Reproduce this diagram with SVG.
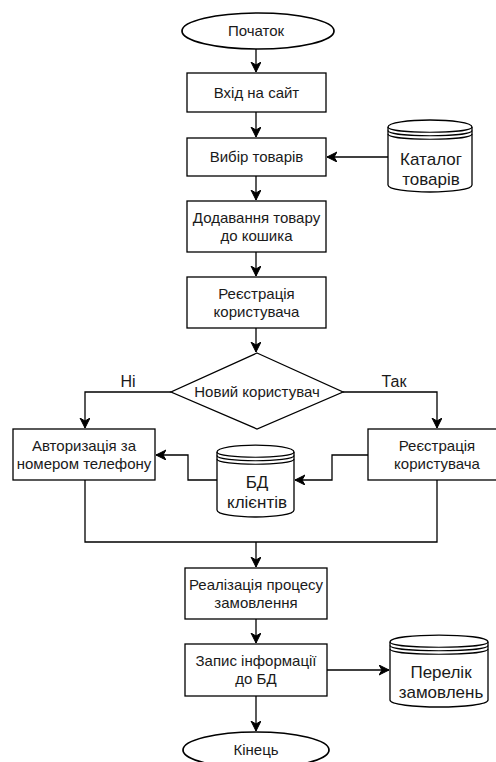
<svg xmlns="http://www.w3.org/2000/svg" width="496" height="762" viewBox="0 0 496 762">
<style>
.shape{fill:#fff;stroke:#000;stroke-width:1.3}
.oval{fill:#fff;stroke:#000;stroke-width:1.7}
.arc{fill:none;stroke:#000;stroke-width:1.2}
.edge{fill:none;stroke:#000;stroke-width:1.3}
text{font-family:"Liberation Sans",Arial,Helvetica,sans-serif;fill:#1a1a1a;text-anchor:middle}
.t{font-size:15px}
.big{font-size:17px}
.lbl{font-size:16px}
</style>
<defs>
<marker id="arr" markerUnits="userSpaceOnUse" markerWidth="12" markerHeight="12" refX="10" refY="5" orient="auto">
<path d="M0,0 L10,5 L0,10 L3,5 z" fill="#000" stroke="#000" stroke-width="1"/>
</marker>
</defs>
<g id="connectors">
<path class="edge" d="M256,49 V72" marker-end="url(#arr)"/>
<path class="edge" d="M256,112 V137" marker-end="url(#arr)"/>
<path class="edge" d="M388,157 H327" marker-end="url(#arr)"/>
<path class="edge" d="M256,176 V200" marker-end="url(#arr)"/>
<path class="edge" d="M256,252 V276" marker-end="url(#arr)"/>
<path class="edge" d="M256,328 V352" marker-end="url(#arr)"/>
<path class="edge" d="M171,392 H85 V428" marker-end="url(#arr)"/>
<path class="edge" d="M343,392 H437 V428" marker-end="url(#arr)"/>
<path class="edge" d="M368,455 H332 V480 H295" marker-end="url(#arr)"/>
<path class="edge" d="M217,480 H188 V455 H156" marker-end="url(#arr)"/>
<path class="edge" d="M85,480 V542 H437 V480"/>
<path class="edge" d="M256,542 V567" marker-end="url(#arr)"/>
<path class="edge" d="M256,619 V643" marker-end="url(#arr)"/>
<path class="edge" d="M327,670 H389" marker-end="url(#arr)"/>
<path class="edge" d="M256,696 V731" marker-end="url(#arr)"/>
<text class="lbl" x="128" y="387">Ні</text>
<text class="lbl" x="394" y="387">Так</text>
</g>
<g id="start">
<ellipse class="oval" cx="258" cy="31" rx="76" ry="18"/>
<text class="t" x="256" y="36">Початок</text>
</g>
<g id="login">
<rect class="shape" x="187" y="73" width="139" height="39"/>
<text class="t" x="256.5" y="97.5">Вхід на сайт</text>
</g>
<g id="choose">
<rect class="shape" x="187" y="138" width="139" height="38"/>
<text class="t" x="256.5" y="162">Вибір товарів</text>
</g>
<g id="catalog">
<path class="shape" d="M388,127 C388,117.7 472,117.7 472,127 V185 C472,194.3 388,194.3 388,185 Z"/>
<path class="arc" d="M388,127 C388,134 472,134 472,127 M388,130.5 C388,137.5 472,137.5 472,130.5 M388,134 C388,141 472,141 472,134"/>
<text class="big" x="431" y="165">Каталог</text>
<text class="big" x="431" y="185">товарів</text>
</g>
<g id="addcart">
<rect class="shape" x="187" y="201" width="139" height="51"/>
<text class="t" x="256.5" y="222.5">Додавання товару</text>
<text class="t" x="256.5" y="240.5">до кошика</text>
</g>
<g id="register1">
<rect class="shape" x="187" y="277" width="139" height="51"/>
<text class="t" x="256.5" y="298.5">Реєстрація</text>
<text class="t" x="256.5" y="316.5">користувача</text>
</g>
<g id="decision">
<path class="shape" d="M257,353 L343,392 L257,429 L171,392 Z"/>
<text class="t" x="257" y="397">Новий користувач</text>
</g>
<g id="auth">
<rect class="shape" x="13" y="429" width="142" height="51"/>
<text class="t" x="84" y="450.5">Авторизація за</text>
<text class="t" x="84" y="468.5">номером телефону</text>
</g>
<g id="register2">
<rect class="shape" x="368" y="429" width="138" height="51"/>
<text class="t" x="437" y="450.5">Реєстрація</text>
<text class="t" x="437" y="468.5">користувача</text>
</g>
<g id="clients">
<path class="shape" d="M217,452 C217,442.7 294,442.7 294,452 V510 C294,519.3 217,519.3 217,510 Z"/>
<path class="arc" d="M217,452 C217,459 294,459 294,452 M217,455.5 C217,462.5 294,462.5 294,455.5 M217,459 C217,466 294,466 294,459"/>
<text class="big" x="257" y="488">БД</text>
<text class="big" x="257" y="508">клієнтів</text>
</g>
<g id="order">
<rect class="shape" x="185" y="568" width="142" height="51"/>
<text class="t" x="256" y="589.5">Реалізація процесу</text>
<text class="t" x="256" y="607.5">замовлення</text>
</g>
<g id="save">
<rect class="shape" x="185" y="644" width="142" height="52"/>
<text class="t" x="256" y="666">Запис інформації</text>
<text class="t" x="256" y="684">до БД</text>
</g>
<g id="orders">
<path class="shape" d="M390,642 C390,632.7 488,632.7 488,642 V700 C488,709.3 390,709.3 390,700 Z"/>
<path class="arc" d="M390,642 C390,649 488,649 488,642 M390,645.5 C390,652.5 488,652.5 488,645.5 M390,649 C390,656 488,656 488,649"/>
<text class="big" x="441" y="678">Перелік</text>
<text class="big" x="441" y="698">замовлень</text>
</g>
<g id="end">
<ellipse class="oval" cx="256" cy="750" rx="73" ry="18"/>
<text class="t" x="256" y="755">Кінець</text>
</g>
</svg>
